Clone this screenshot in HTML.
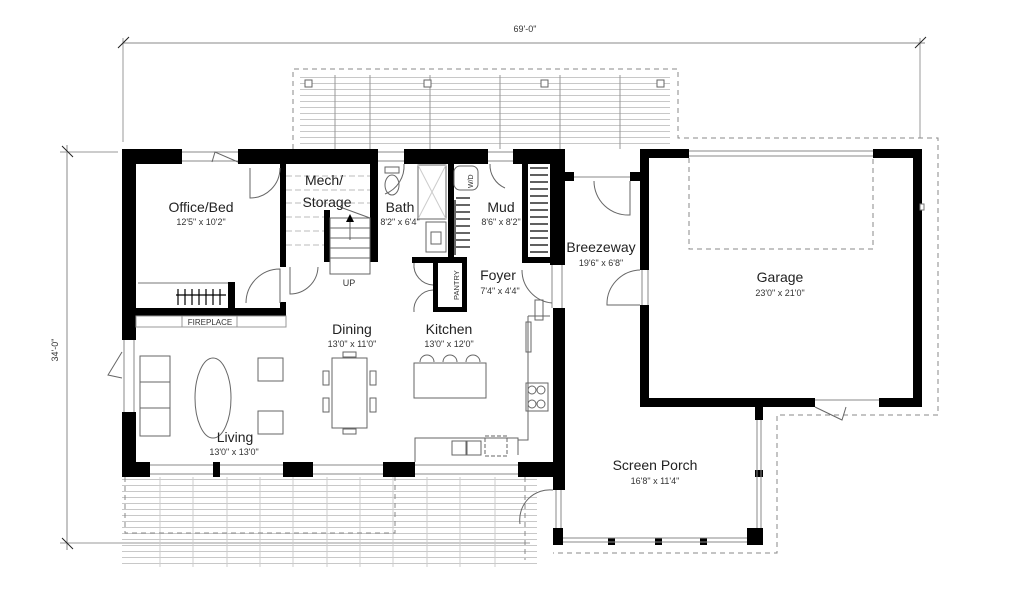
<!DOCTYPE html>
<html><head><meta charset="utf-8"><style>
html,body{margin:0;padding:0;background:#fff;}
svg{display:block;font-family:"Liberation Sans",sans-serif;}
.t{font-size:14px;fill:#222;text-anchor:middle;}
.s{font-size:9px;fill:#333;text-anchor:middle;}
.ln{stroke:#999;stroke-width:1;fill:none;}
.lk{stroke:#666;stroke-width:1;fill:none;}
.ds{stroke:#888;stroke-width:1;fill:none;stroke-dasharray:5 4;}
</style></head><body>
<svg width="1024" height="592" viewBox="0 0 1024 592" xmlns="http://www.w3.org/2000/svg">
<defs>
<pattern id="pl" width="1024" height="6" patternUnits="userSpaceOnUse"><line x1="0" y1="5.5" x2="1024" y2="5.5" stroke="#c8c8c8" stroke-width="1"/></pattern>
</defs>
<line x1="123" y1="43" x2="925" y2="43" stroke="#888"/>
<line x1="123" y1="38" x2="123" y2="142" stroke="#999"/>
<line x1="920" y1="38" x2="920" y2="138" stroke="#999"/>
<line x1="118" y1="48" x2="129" y2="37" stroke="#222"/>
<line x1="915" y1="48" x2="926" y2="37" stroke="#222"/>
<text x="525" y="32" class="s" font-size="11">69'-0"</text>
<line x1="67" y1="145" x2="67" y2="550" stroke="#888"/>
<line x1="60" y1="152" x2="118" y2="152" stroke="#999"/>
<line x1="60" y1="543" x2="530" y2="543" stroke="#999"/>
<line x1="62" y1="146" x2="73" y2="157" stroke="#222"/>
<line x1="62" y1="538" x2="73" y2="549" stroke="#222"/>
<text x="0" y="0" class="s" font-size="11" transform="translate(58,350) rotate(-90)">34'-0"</text>
<rect x="300" y="75" width="370" height="74" fill="url(#pl)"/>
<path d="M293 149 V69 H678 V138 H938 V415 H777 V553 H553" class="ds"/>
<g class="ln" stroke="#ccc"><line x1="335" y1="75" x2="335" y2="149"/><line x1="370" y1="75" x2="370" y2="149"/><line x1="430" y1="75" x2="430" y2="149"/><line x1="500" y1="75" x2="500" y2="149"/><line x1="560" y1="75" x2="560" y2="149"/><line x1="620" y1="75" x2="620" y2="149"/></g>
<g fill="#fff" stroke="#666"><rect x="305" y="80" width="7" height="7"/><rect x="424" y="80" width="7" height="7"/><rect x="541" y="80" width="7" height="7"/><rect x="657" y="80" width="7" height="7"/></g>
<rect x="122" y="477" width="415" height="90" fill="url(#pl)"/>
<g stroke="#ccc"><line x1="160" y1="477" x2="160" y2="567"/><line x1="193" y1="477" x2="193" y2="567"/><line x1="227" y1="477" x2="227" y2="567"/><line x1="260" y1="477" x2="260" y2="567"/><line x1="293" y1="477" x2="293" y2="567"/><line x1="327" y1="477" x2="327" y2="567"/><line x1="360" y1="477" x2="360" y2="567"/><line x1="393" y1="477" x2="393" y2="567"/><line x1="427" y1="477" x2="427" y2="567"/><line x1="460" y1="477" x2="460" y2="567"/><line x1="495" y1="477" x2="495" y2="567"/></g>
<path d="M125 477 V533 H395 V477" class="ds"/>
<line x1="525" y1="477" x2="525" y2="560" class="ds"/>
<rect x="136" y="164" width="414" height="298" fill="#fff"/>
<rect x="649" y="158" width="264" height="240" fill="#fff"/>
<g fill="#000">
<rect x="122" y="149" width="60" height="15"/><rect x="238" y="149" width="140" height="15"/><rect x="404" y="149" width="84" height="15"/><rect x="513" y="149" width="52" height="15"/>
<rect x="122" y="149" width="14" height="191"/><rect x="122" y="412" width="14" height="65"/>
<rect x="550" y="149" width="15" height="116"/><rect x="553" y="308" width="12" height="182"/>
<rect x="122" y="462" width="28" height="15"/><rect x="213" y="462" width="7" height="15"/><rect x="283" y="462" width="30" height="15"/><rect x="383" y="462" width="32" height="15"/><rect x="518" y="462" width="47" height="15"/>
<rect x="136" y="308" width="150" height="8"/>
<rect x="228" y="282" width="7" height="33"/>
<rect x="280" y="164" width="6" height="103"/><rect x="280" y="302" width="6" height="14"/>
<rect x="370" y="164" width="8" height="98"/>
<rect x="324" y="210" width="6" height="52"/>
<rect x="412" y="257" width="55" height="6"/>
<rect x="448" y="164" width="6" height="99"/>
<rect x="433" y="263" width="5" height="49"/><rect x="462" y="263" width="5" height="49"/><rect x="433" y="307" width="34" height="5"/>
<rect x="522" y="164" width="6" height="99"/><rect x="522" y="257" width="28" height="6"/>
<rect x="280" y="257" width="6" height="6"/>
<rect x="565" y="172" width="9" height="9"/><rect x="630" y="172" width="10" height="9"/>
<rect x="640" y="149" width="49" height="9"/><rect x="873" y="149" width="49" height="9"/>
<rect x="640" y="149" width="9" height="121"/><rect x="640" y="305" width="9" height="102"/>
<rect x="913" y="149" width="9" height="258"/>
<rect x="640" y="398" width="175" height="9"/><rect x="879" y="398" width="43" height="9"/>
<rect x="755" y="407" width="8" height="13"/><rect x="755" y="470" width="8" height="7"/>
<rect x="553" y="528" width="10" height="17"/><rect x="747" y="528" width="16" height="17"/>
<rect x="608" y="538" width="7" height="7"/><rect x="655" y="538" width="7" height="7"/><rect x="700" y="538" width="7" height="7"/>
</g>
<g stroke="#888"><line x1="563" y1="538" x2="747" y2="538"/><line x1="563" y1="542" x2="747" y2="542"/><line x1="757" y1="420" x2="757" y2="528"/><line x1="761" y1="420" x2="761" y2="528"/><line x1="556" y1="490" x2="556" y2="528"/><line x1="561" y1="490" x2="561" y2="528"/></g>
<g stroke="#888" fill="none"><line x1="182" y1="152" x2="238" y2="152"/><line x1="182" y1="161" x2="238" y2="161"/>
<line x1="378" y1="152" x2="404" y2="152"/><line x1="378" y1="161" x2="404" y2="161"/>
<line x1="488" y1="152" x2="513" y2="152"/><line x1="488" y1="161" x2="513" y2="161"/>
<line x1="150" y1="465" x2="213" y2="465"/><line x1="150" y1="474" x2="213" y2="474"/>
<line x1="220" y1="465" x2="283" y2="465"/><line x1="220" y1="474" x2="283" y2="474"/>
<line x1="313" y1="465" x2="383" y2="465"/><line x1="313" y1="474" x2="383" y2="474"/>
<line x1="415" y1="465" x2="518" y2="465"/><line x1="415" y1="474" x2="518" y2="474"/>
<line x1="689" y1="151" x2="873" y2="151"/><line x1="689" y1="156" x2="873" y2="156"/>
<line x1="574" y1="177" x2="630" y2="177"/>
<line x1="124" y1="340" x2="124" y2="412"/><line x1="134" y1="340" x2="134" y2="412"/>
<line x1="815" y1="400" x2="879" y2="400"/>
<line x1="552" y1="265" x2="552" y2="308"/><line x1="562" y1="265" x2="562" y2="308"/>
<line x1="642" y1="270" x2="642" y2="305"/><line x1="648" y1="270" x2="648" y2="305"/>
</g>
<g class="lk">
<path d="M212 162 L215 152 L238 162"/>
<path d="M250 168 V198 A30 30 0 0 0 280 168"/>
<path d="M246 303 A34 34 0 0 1 280 269 V303"/>
<path d="M290 267 V294 A28 28 0 0 0 318 267"/>
<path d="M404 164 A30 30 0 0 1 385 194"/>
<path d="M490 164 A25 25 0 0 0 505 188"/>
<path d="M414 263 A20 20 0 0 0 433 285 M414 312 A20 20 0 0 1 433 290"/>
<path d="M552 303 A33 33 0 0 1 522 270"/>
<path d="M630 181 V215 A34 34 0 0 1 594 181"/>
<path d="M640 270 A34 34 0 0 0 607 305 H640"/>
<path d="M815 407 L842 420 L846 407"/>
<path d="M122 352 L108 375 L122 378"/>
<path d="M553 490 A30 30 0 0 0 520 524"/>
</g>
<path d="M689 158 V249 H873 V158" class="ds"/>
<rect x="920" y="204" width="4" height="6" fill="#fff" stroke="#777"/>
<g stroke="#bbb"><line x1="286" y1="176" x2="370" y2="176" stroke-dasharray="6 3"/><line x1="286" y1="190" x2="370" y2="190" stroke-dasharray="6 3"/><line x1="286" y1="203" x2="370" y2="203" stroke-dasharray="6 3"/><line x1="286" y1="217" x2="324" y2="217" stroke-dasharray="6 3"/><line x1="286" y1="231" x2="324" y2="231" stroke-dasharray="6 3"/><line x1="286" y1="245" x2="324" y2="245" stroke-dasharray="6 3"/></g>
<g class="lk"><rect x="330" y="218" width="40" height="56"/><line x1="330" y1="228" x2="370" y2="228"/><line x1="330" y1="238" x2="370" y2="238"/><line x1="330" y1="248" x2="370" y2="248"/><line x1="330" y1="258" x2="370" y2="258"/><line x1="350" y1="240" x2="350" y2="217"/><line x1="340" y1="207" x2="370" y2="218"/></g>
<path d="M346 222 L350 214 L354 222 Z" fill="#000"/>
<text x="349" y="286" class="s" font-size="8">UP</text>
<g class="lk"><ellipse cx="392" cy="185" rx="7" ry="10"/><rect x="385" y="167" width="14" height="6"/>
<rect x="418" y="165" width="28" height="54"/><line x1="418" y1="165" x2="446" y2="219" stroke="#ccc"/><line x1="446" y1="165" x2="418" y2="219" stroke="#ccc"/>
<rect x="426" y="222" width="20" height="30"/><rect x="431" y="232" width="10" height="12"/>
<rect x="454" y="166" width="24" height="24" rx="6"/>
<rect x="535" y="300" width="8" height="20"/></g>
<text x="0" y="0" font-size="7" fill="#333" transform="translate(473,188) rotate(-90)">W/D</text>
<text x="0" y="0" font-size="7.5" fill="#333" transform="translate(459,300) rotate(-90)">PANTRY</text>
<g stroke="#000" stroke-width="1.2"><line x1="455" y1="200" x2="455" y2="255"/>
<g><line x1="456" y1="198" x2="470" y2="198"/><line x1="456" y1="205" x2="470" y2="205"/><line x1="456" y1="212" x2="470" y2="212"/><line x1="456" y1="219" x2="470" y2="219"/><line x1="456" y1="226" x2="470" y2="226"/><line x1="456" y1="233" x2="470" y2="233"/><line x1="456" y1="240" x2="470" y2="240"/><line x1="456" y1="247" x2="470" y2="247"/></g>
<g><line x1="530" y1="168" x2="548" y2="168"/><line x1="530" y1="175" x2="548" y2="175"/><line x1="530" y1="182" x2="548" y2="182"/><line x1="530" y1="189" x2="548" y2="189"/><line x1="530" y1="196" x2="548" y2="196"/><line x1="530" y1="203" x2="548" y2="203"/><line x1="530" y1="210" x2="548" y2="210"/><line x1="530" y1="217" x2="548" y2="217"/><line x1="530" y1="224" x2="548" y2="224"/><line x1="530" y1="231" x2="548" y2="231"/><line x1="530" y1="238" x2="548" y2="238"/><line x1="530" y1="245" x2="548" y2="245"/><line x1="530" y1="252" x2="548" y2="252"/></g>
<line x1="176" y1="295" x2="226" y2="295"/>
<g><line x1="178" y1="289" x2="178" y2="305"/><line x1="185" y1="289" x2="185" y2="305"/><line x1="192" y1="289" x2="192" y2="305"/><line x1="199" y1="289" x2="199" y2="305"/><line x1="206" y1="289" x2="206" y2="305"/><line x1="213" y1="289" x2="213" y2="305"/><line x1="220" y1="289" x2="220" y2="305"/></g></g>
<line x1="138" y1="283" x2="228" y2="283" stroke="#777"/>
<rect x="136" y="316" width="150" height="11" fill="#fff" stroke="#999"/>
<rect x="182" y="316" width="55" height="11" fill="#fff" stroke="#999"/>
<text x="210" y="325" font-size="8" fill="#333" text-anchor="middle">FIREPLACE</text>
<g class="lk"><rect x="140" y="356" width="30" height="80"/><rect x="140" y="356" width="30" height="26"/><rect x="140" y="408" width="30" height="28"/>
<ellipse cx="213" cy="398" rx="18" ry="40"/>
<rect x="258" y="358" width="25" height="23"/><rect x="258" y="411" width="25" height="23"/>
<rect x="332" y="358" width="35" height="70"/><rect x="343" y="352" width="13" height="5"/><rect x="343" y="429" width="13" height="5"/>
<rect x="323" y="371" width="6" height="14"/><rect x="323" y="398" width="6" height="14"/><rect x="370" y="371" width="6" height="14"/><rect x="370" y="398" width="6" height="14"/>
<rect x="414" y="363" width="72" height="35"/><path d="M420 362 A7 7 0 0 1 434 362 M443 362 A7 7 0 0 1 457 362 M466 362 A7 7 0 0 1 480 362"/>
<path d="M415 462 V438 H518 V455 M528 316 H550 M528 316 V440 H518"/>
<rect x="526" y="322" width="5" height="30"/>
<rect x="526" y="383" width="22" height="28"/><circle cx="532" cy="390" r="4"/><circle cx="541" cy="390" r="4"/><circle cx="532" cy="404" r="4"/><circle cx="541" cy="404" r="4"/>
<rect x="452" y="441" width="14" height="14"/><rect x="467" y="441" width="14" height="14"/>
<rect x="485" y="436" width="22" height="20" stroke-dasharray="4 2"/></g>
<text x="201" y="212" class="t">Office/Bed</text><text x="201" y="225" class="s">12'5" x 10'2"</text>
<text x="324" y="185" class="t">Mech/</text><text x="327" y="207" class="t">Storage</text>
<text x="400" y="212" class="t">Bath</text><text x="400" y="225" class="s">8'2" x 6'4"</text>
<text x="501" y="212" class="t">Mud</text><text x="501" y="225" class="s">8'6" x 8'2"</text>
<text x="498" y="280" class="t">Foyer</text><text x="500" y="294" class="s">7'4" x 4'4"</text>
<text x="352" y="334" class="t">Dining</text><text x="352" y="347" class="s">13'0" x 11'0"</text>
<text x="449" y="334" class="t">Kitchen</text><text x="449" y="347" class="s">13'0" x 12'0"</text>
<text x="235" y="442" class="t">Living</text><text x="234" y="455" class="s">13'0" x 13'0"</text>
<text x="601" y="252" class="t">Breezeway</text><text x="601" y="266" class="s">19'6" x 6'8"</text>
<text x="780" y="282" class="t">Garage</text><text x="780" y="296" class="s">23'0" x 21'0"</text>
<text x="655" y="470" class="t">Screen Porch</text><text x="655" y="484" class="s">16'8" x 11'4"</text>
</svg>
</body></html>
